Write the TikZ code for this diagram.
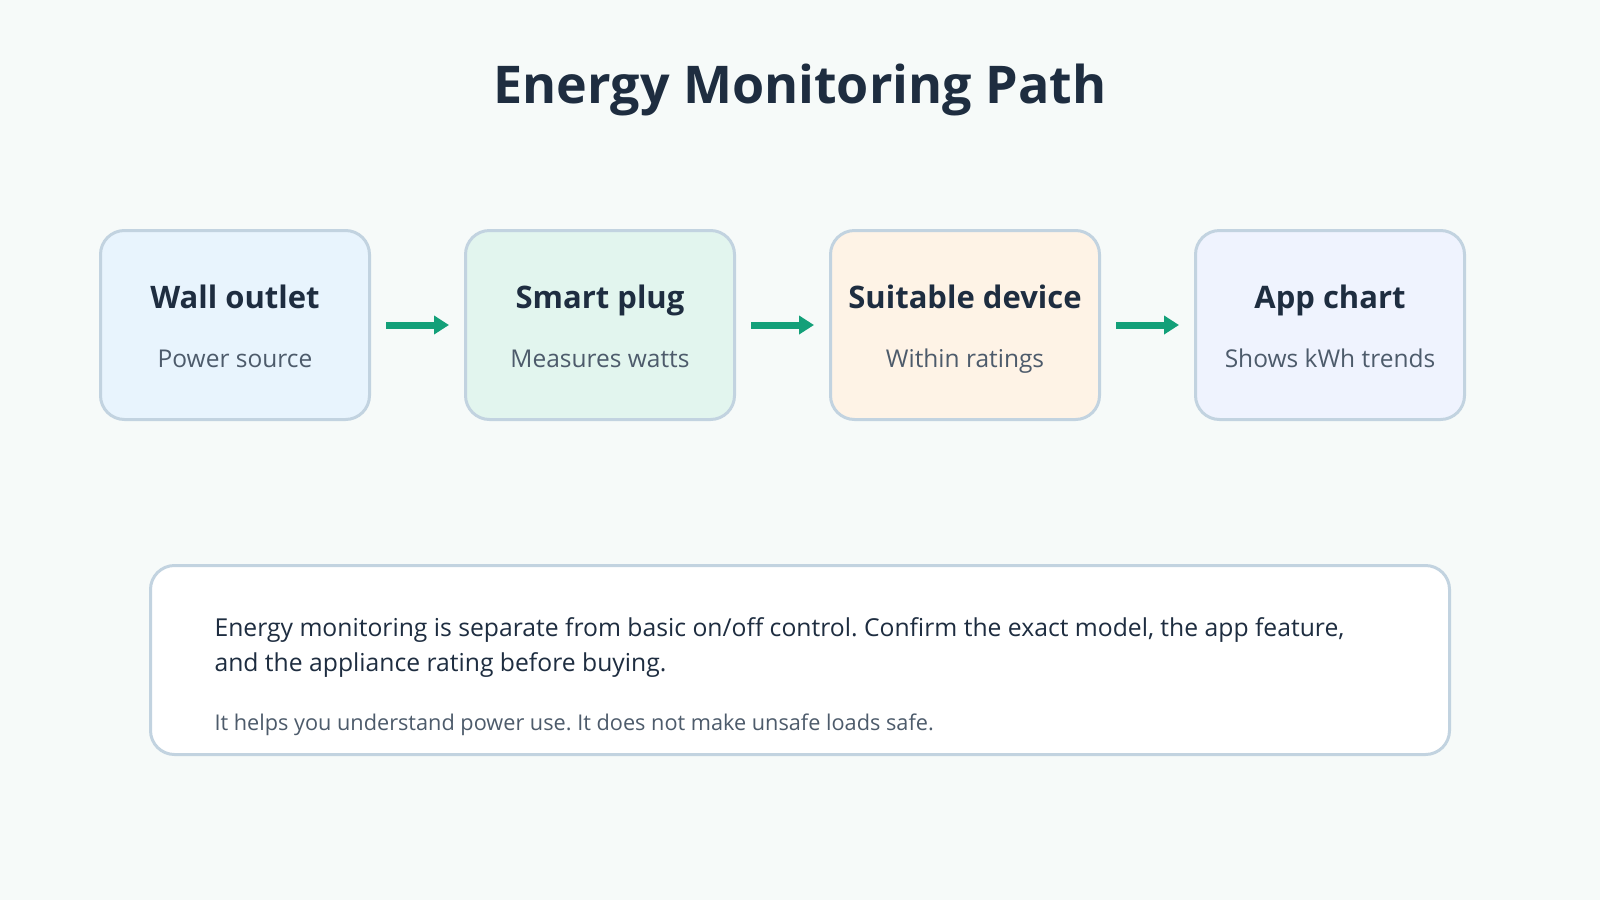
\documentclass[tikz,border=0pt]{standalone}
\usepackage{fontspec}
\setmainfont{Open Sans}
\usepackage{xcolor}
\usepackage{tikz}
\usetikzlibrary{arrows.meta,positioning}
\frenchspacing
\definecolor{bgcol}{HTML}{F6FAF9}
\definecolor{edgecol}{HTML}{C2D3E0}
\definecolor{inkcol}{HTML}{1E2D40}
\definecolor{subcol}{HTML}{4D5B6B}
\definecolor{flowcol}{HTML}{13A079}
\definecolor{outletfill}{HTML}{E8F4FD}
\definecolor{plugfill}{HTML}{E2F5EE}
\definecolor{devicefill}{HTML}{FEF3E6}
\definecolor{chartfill}{HTML}{EFF3FE}
\tikzset{stage/.style={draw=edgecol, line width=3pt, rounded corners=24pt, minimum width=269pt, minimum height=189pt, inner sep=0pt, fill=#1},
stage/.default={white},
%text inside the stage boxes
stagetitle/.style={anchor=base, text=inkcol, font=\fontsize{31}{37}\selectfont\bfseries},
stagesub/.style={anchor=base, text=subcol, font=\fontsize{24.5}{29}\selectfont},
flow/.style={draw=flowcol, line width=7pt, -{Triangle[length=15pt,width=18pt]}}}

\begin{document}
\begin{tikzpicture}[x=1pt, y=-1pt]
\fill[bgcol] (0,0) rectangle (1600,900);
\node[anchor=base, text=inkcol, font=\fontsize{52}{62}\selectfont\bfseries] (title) at (800,103) {Energy Monitoring Path};
% the four stages
\node[stage=outletfill] (outlet) at (235,325) {};
\node[stagetitle] (outlettitle) at (235,308) {Wall outlet};
\node[stagesub] (outletsub) at (235,367) {Power source};
\node[stage=plugfill] (plug) at (600,325) {};
\node[stagetitle] (plugtitle) at (600,308) {Smart plug};
\node[stagesub] (plugsub) at (600,367) {Measures watts};
\node[stage=devicefill] (device) at (965,325) {};
\node[stagetitle] (devicetitle) at (965,308) {Suitable device};
\node[stagesub] (devicesub) at (965,367) {Within ratings};
\node[stage=chartfill] (chart) at (1330,325) {};
\node[stagetitle] (charttitle) at (1330,308) {App chart};
\node[stagesub] (chartsub) at (1330,367) {Shows kWh trends};
\draw[flow] ([xshift=15pt]outlet.east) -- ([xshift=-15pt]plug.west);
\draw[flow] ([xshift=15pt]plug.east) -- ([xshift=-15pt]device.west);
\draw[flow] ([xshift=15pt]device.east) -- ([xshift=-15pt]chart.west);
% note at the bottom
\node[stage, minimum width=1299pt] (note) at (800,660) {};
\node[anchor=base west, text=inkcol, font=\fontsize{24.7}{30}\selectfont] (noteone) at (211,636) {Energy monitoring is separate from basic on/off control. Confirm the exact model, the app feature,};
\node[anchor=base west, text=inkcol, font=\fontsize{24.7}{30}\selectfont] (notetwo) at (211,671) {and the appliance rating before buying.};
\node[anchor=base west, text=subcol, font=\fontsize{21.7}{26}\selectfont] (notethree) at (211,730) {It helps you understand power use. It does not make unsafe loads safe.};
\end{tikzpicture}
\end{document}
